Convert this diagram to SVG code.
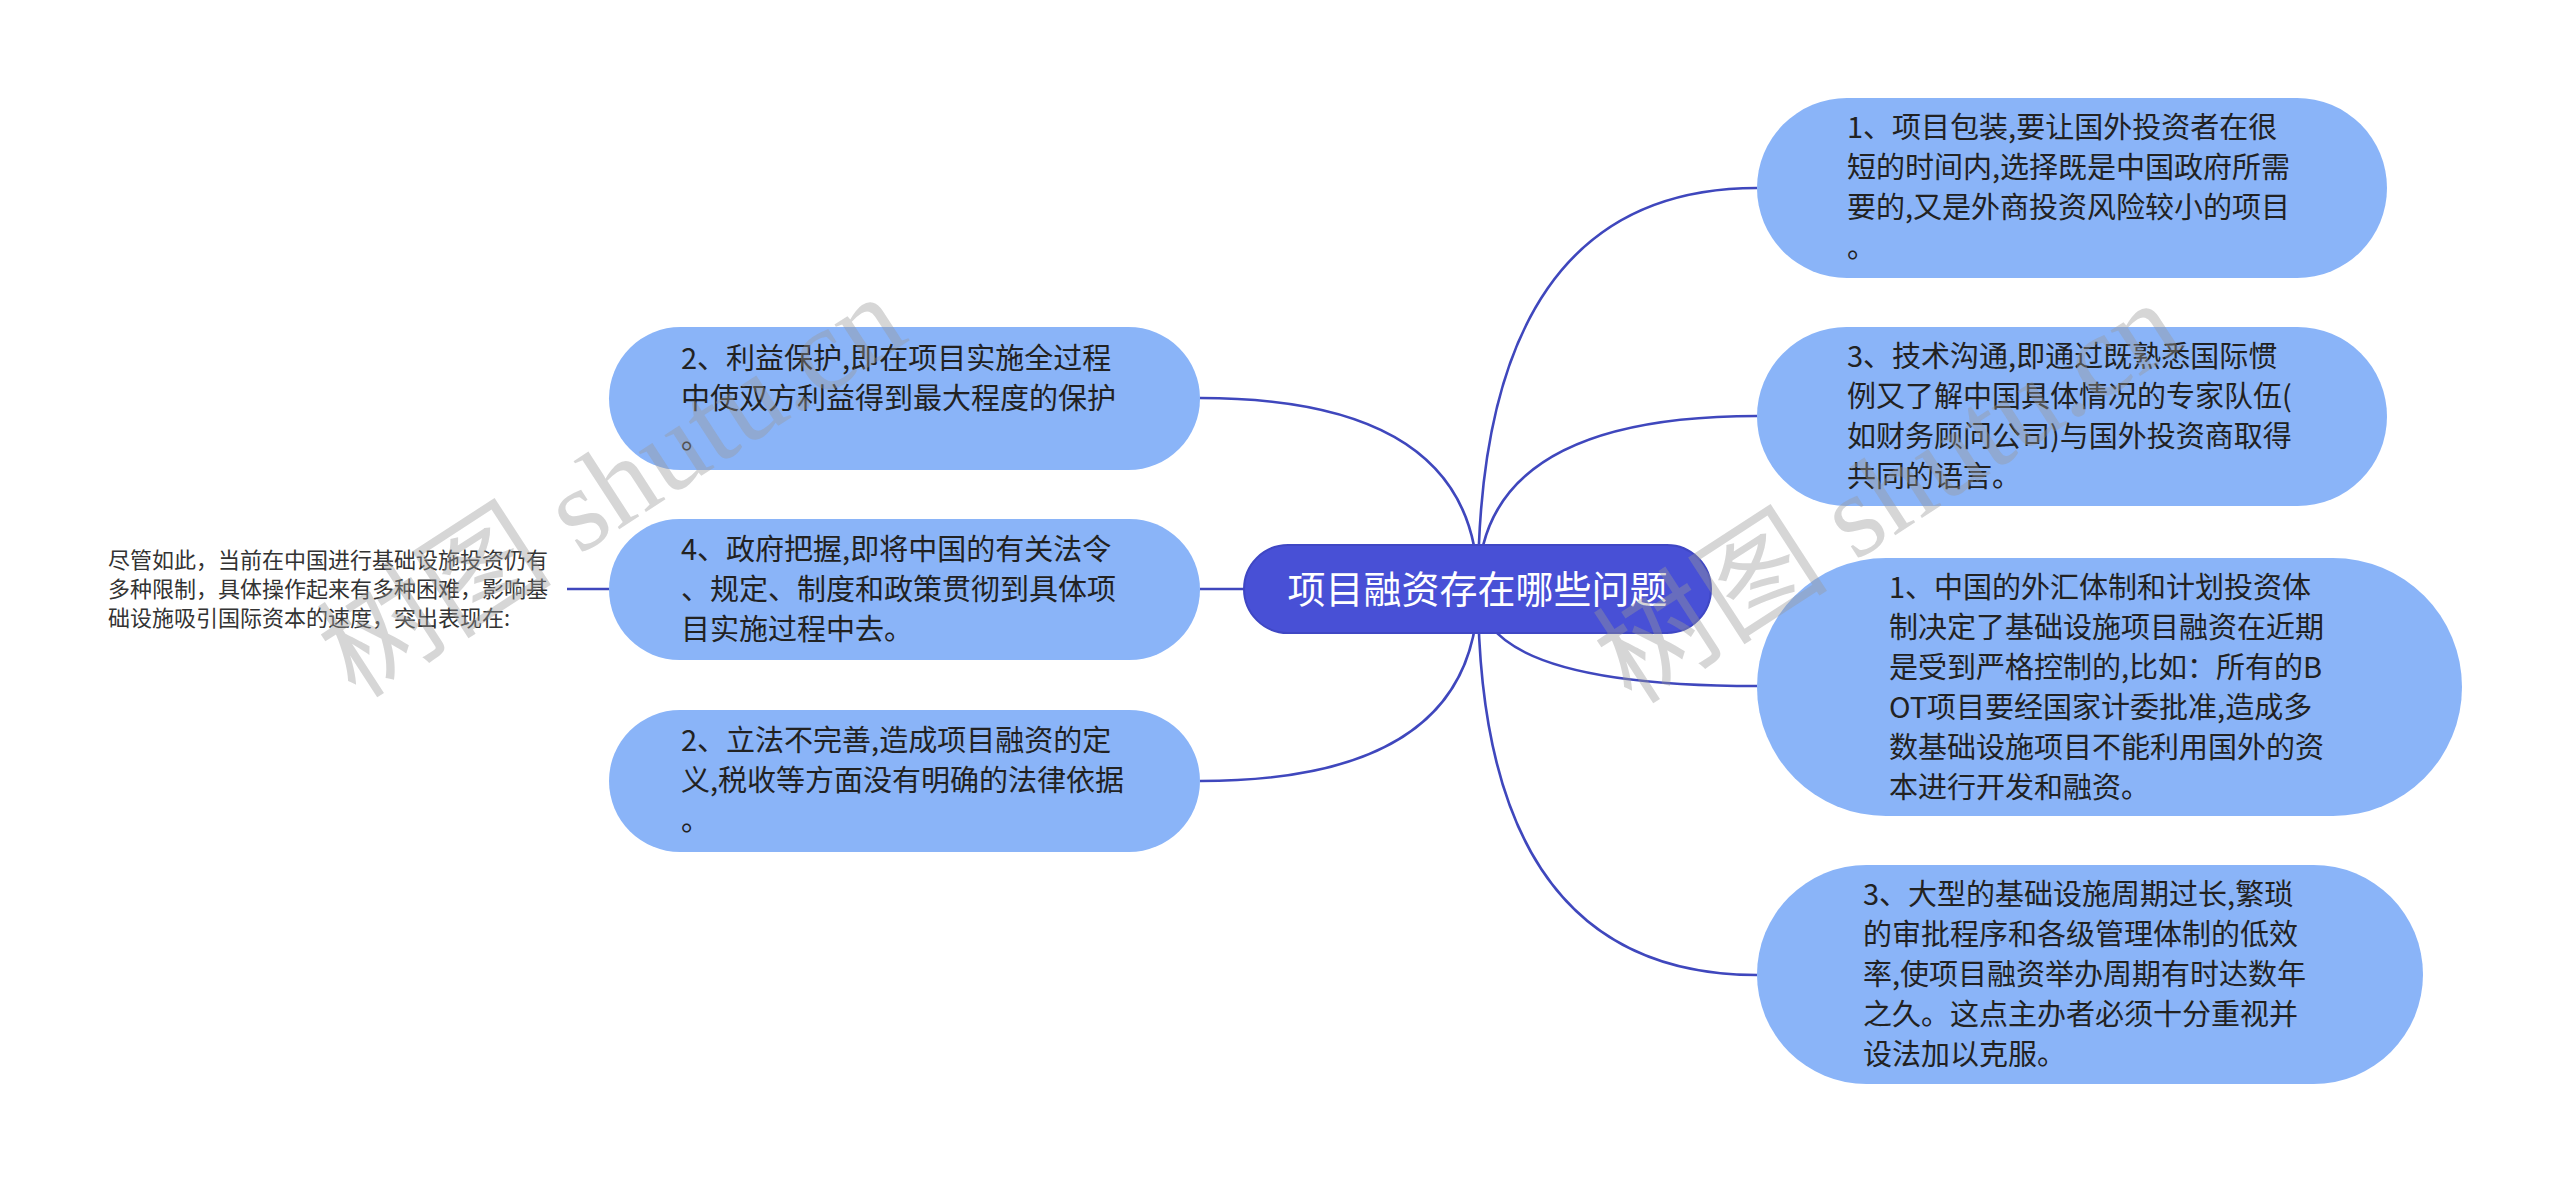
<svg xmlns="http://www.w3.org/2000/svg" width="2560" height="1181" viewBox="0 0 2560 1181">
<defs>
<style>
.bg{fill:#ffffff}
.conn{fill:none;stroke:#3f47bd;stroke-width:2.6}
.node rect{fill:#8ab4f8}
.root rect{fill:#4850d6;stroke:#3f47c4;stroke-width:2}
.t{font-family:"Noto Sans CJK SC","Noto Sans",sans-serif;font-size:29px;fill:#222222}
.rt{font-family:"Noto Sans CJK SC","Noto Sans",sans-serif;font-size:38px;fill:#ffffff}
.plain{font-family:"Noto Sans CJK SC","Noto Sans",sans-serif;font-size:22px;fill:#333333}
.wm{font-family:"Liberation Serif","Noto Sans CJK SC",serif;font-size:118px;fill:#999999;fill-opacity:0.4}
</style>
</defs>
<rect class="bg" x="0" y="0" width="2560" height="1181"/>
<g id="connectors">
<path class="conn" d="M1478 589 Q1478 188 1757 188"/>
<path class="conn" d="M1478 589 Q1478 416 1757 416"/>
<path class="conn" d="M1478 589 Q1478 686 1757 686"/>
<path class="conn" d="M1478 589 Q1478 975 1757 975"/>
<path class="conn" d="M1478 589 Q1478 398 1200 398"/>
<path class="conn" d="M1478 589 L1200 589"/>
<path class="conn" d="M1478 589 Q1478 781 1200 781"/>
<path class="conn" d="M609 589 L567 589"/>
</g>
<g id="root" class="root">
<rect x="1244" y="545" width="467" height="88" rx="44"/>
<text class="rt" x="1477.5" y="603" text-anchor="middle">项目融资存在哪些问题</text>
</g>
<g id="r1" class="node">
<rect x="1757" y="98" width="630" height="180" rx="90"/>
<text class="t"><tspan x="1847" y="138">1、项目包装,要让国外投资者在很</tspan><tspan x="1847" y="178">短的时间内,选择既是中国政府所需</tspan><tspan x="1847" y="218">要的,又是外商投资风险较小的项目</tspan><tspan x="1847" y="258">。</tspan></text>
</g>
<g id="r2" class="node">
<rect x="1757" y="327" width="630" height="179" rx="89.5"/>
<text class="t"><tspan x="1847" y="367">3、技术沟通,即通过既熟悉国际惯</tspan><tspan x="1847" y="407">例又了解中国具体情况的专家队伍(</tspan><tspan x="1847" y="447">如财务顾问公司)与国外投资商取得</tspan><tspan x="1847" y="487">共同的语言。</tspan></text>
</g>
<g id="r3" class="node">
<rect x="1757" y="558" width="705" height="258" rx="129"/>
<text class="t"><tspan x="1889" y="598">1、中国的外汇体制和计划投资体</tspan><tspan x="1889" y="638">制决定了基础设施项目融资在近期</tspan><tspan x="1889" y="678">是受到严格控制的,比如：所有的B</tspan><tspan x="1889" y="718">OT项目要经国家计委批准,造成多</tspan><tspan x="1889" y="758">数基础设施项目不能利用国外的资</tspan><tspan x="1889" y="798">本进行开发和融资。</tspan></text>
</g>
<g id="r4" class="node">
<rect x="1757" y="865" width="666" height="219" rx="109.5"/>
<text class="t"><tspan x="1863" y="905">3、大型的基础设施周期过长,繁琐</tspan><tspan x="1863" y="945">的审批程序和各级管理体制的低效</tspan><tspan x="1863" y="985">率,使项目融资举办周期有时达数年</tspan><tspan x="1863" y="1025">之久。这点主办者必须十分重视并</tspan><tspan x="1863" y="1065">设法加以克服。</tspan></text>
</g>
<g id="l1" class="node">
<rect x="609" y="327" width="591" height="143" rx="71.5"/>
<text class="t"><tspan x="681" y="369">2、利益保护,即在项目实施全过程</tspan><tspan x="681" y="409">中使双方利益得到最大程度的保护</tspan><tspan x="681" y="449">。</tspan></text>
</g>
<g id="l2" class="node">
<rect x="609" y="519" width="591" height="141" rx="70.5"/>
<text class="t"><tspan x="681" y="560">4、政府把握,即将中国的有关法令</tspan><tspan x="681" y="600">、规定、制度和政策贯彻到具体项</tspan><tspan x="681" y="640">目实施过程中去。</tspan></text>
</g>
<g id="l3" class="node">
<rect x="609" y="710" width="591" height="142" rx="71"/>
<text class="t"><tspan x="681" y="751">2、立法不完善,造成项目融资的定</tspan><tspan x="681" y="791">义,税收等方面没有明确的法律依据</tspan><tspan x="681" y="831">。</tspan></text>
</g>
<g id="summary">
<text class="plain"><tspan x="108" y="568">尽管如此，当前在中国进行基础设施投资仍有</tspan><tspan x="108" y="597">多种限制，具体操作起来有多种困难，影响基</tspan><tspan x="108" y="626">础设施吸引国际资本的速度，突出表现在:</tspan></text>
</g>
<g id="watermark">
<text class="wm" transform="translate(356 700) rotate(-33)">树图 shutu.cn</text>
<text class="wm" transform="translate(1632 706) rotate(-33)">树图 shutu.cn</text>
</g>
</svg>
